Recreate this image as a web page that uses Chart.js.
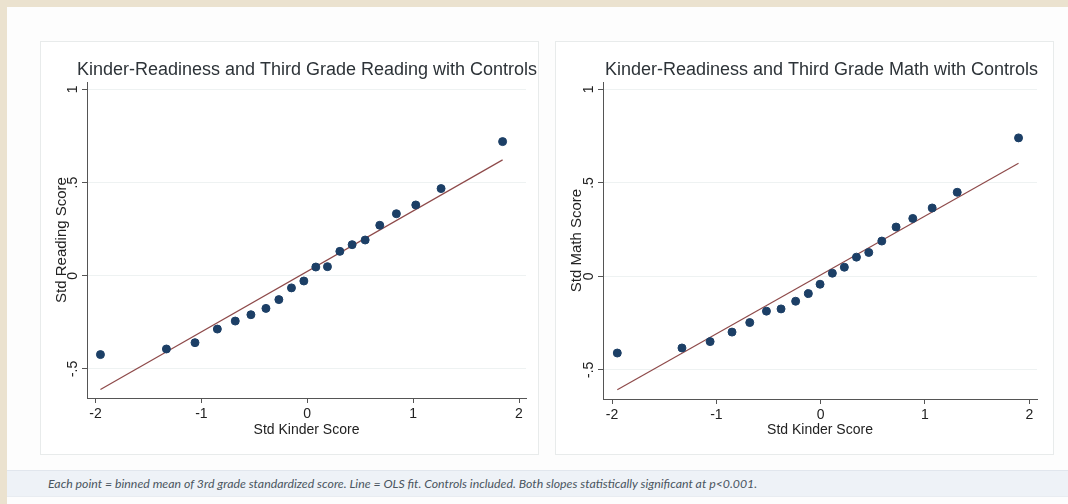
<!DOCTYPE html>
<html>
<head>
<meta charset="utf-8">
<script src="https://cdn.jsdelivr.net/npm/chart.js@4.4.1/dist/chart.umd.min.js"></script>
<style>
  html, body { margin: 0; padding: 0; }
  body { width: 1068px; height: 504px; background: #ebe2cf; position: relative; overflow: hidden; }
  .page { position: absolute; left: 7px; top: 7px; right: 0; bottom: 0; background: #fdfdfd; }
  .card { position: absolute; top: 34px; width: 499px; height: 414px; box-sizing: border-box;
          border: 1px solid #e8ebeb; background: #fff; overflow: hidden; }
  #card1 { left: 33px; }
  #card2 { left: 548px; }
  .card canvas { position: absolute; left: 0; top: 0; }
  .caption { position: absolute; left: 0; right: 0; top: 463px; height: 27px; box-sizing: border-box;
             background: #eef2f7; border-top: 1px solid #e1e6ed; border-bottom: 1px solid #e8ecf1;
             padding-left: 41px; line-height: 26px; font-family: Lato, "Open Sans", sans-serif;
             font-style: italic; font-size: 12.3px; color: #4a5560; white-space: nowrap; }
</style>
</head>
<body>
<div class="page">
  <!-- canvases are a bit wider than the cards so the title centres over the plot, Stata style -->
  <div class="card" id="card1"><canvas id="readingChart" width="532" height="412"></canvas></div>
  <div class="card" id="card2"><canvas id="mathChart" width="531" height="412"></canvas></div>
  <div class="caption">Each point = binned mean of 3rd grade standardized score. Line = OLS fit. Controls included. Both slopes statistically significant at p&lt;0.001.</div>
</div>
<script>
// binned means
const kinderReading = [-1.953, -1.33, -1.06, -0.849, -0.68, -0.532, -0.39, -0.268, -0.149, -0.032, 0.081, 0.191, 0.308, 0.424, 0.547, 0.685, 0.842, 1.025, 1.264, 1.845];
const readingScores = [-0.423, -0.393, -0.359, -0.286, -0.243, -0.209, -0.175, -0.128, -0.065, -0.028, 0.047, 0.049, 0.131, 0.167, 0.192, 0.271, 0.333, 0.38, 0.468, 0.72];
const readingFitX = [-1.953, 1.845];
const readingFitY = [-0.61, 0.622];

const kinderMath = [-1.95, -1.33, -1.06, -0.85, -0.68, -0.52, -0.38, -0.24, -0.118, -0.006, 0.112, 0.227, 0.343, 0.461, 0.586, 0.723, 0.883, 1.069, 1.309, 1.897];
const mathScores = [-0.41, -0.383, -0.349, -0.298, -0.247, -0.186, -0.174, -0.133, -0.092, -0.042, 0.017, 0.049, 0.103, 0.128, 0.189, 0.264, 0.31, 0.366, 0.45, 0.741];
const mathFitX = [-1.95, 1.897];
const mathFitY = [-0.606, 0.605];

const xTicks = [-2, -1, 0, 1, 2];
const xTickLabels = ['-2', '-1', '0', '1', '2'];
const yTicks = [-0.5, 0, 0.5, 1];
const yTickLabels = ['-.5', '0', '.5', '1'];

const FONT = '"Liberation Sans", Arial, sans-serif';
const dotColor = '#1c3f66';
const fitColor = '#8e4a4a';

function pairs(xs, ys) {
  return xs.map((x, i) => ({ x: x, y: ys[i] }));
}

// Stata style: y tick labels turned on their side
const rotatedYLabels = {
  id: 'rotatedYLabels',
  afterDraw(chart) {
    const scale = chart.scales.y;
    const ctx = chart.ctx;
    ctx.save();
    ctx.fillStyle = '#222';
    ctx.font = '14px ' + FONT;
    ctx.textAlign = 'center';
    ctx.textBaseline = 'middle';
    yTicks.forEach((v, i) => {
      const py = scale.getPixelForValue(v);
      ctx.save();
      ctx.translate(scale.right - 14, py);
      ctx.rotate(-Math.PI / 2);
      ctx.fillText(yTickLabels[i], 0, 0);
      ctx.restore();
    });
    ctx.restore();
  }
};

function makeChart(id, title, yTitle, xs, ys, fitX, fitY, xMin, xMax, rightPad, xHeight, yWidth) {
  const ctx = document.getElementById(id).getContext('2d');
  return new Chart(ctx, {
    type: 'scatter',
    data: {
      datasets: [
        {
          label: 'Binned mean',
          data: pairs(xs, ys),
          backgroundColor: dotColor,
          borderColor: dotColor,
          pointRadius: 4,
          pointHoverRadius: 4,
          order: 0
        },
        {
          type: 'line',
          label: 'OLS fit',
          data: pairs(fitX, fitY),
          borderColor: fitColor,
          borderWidth: 1.2,
          pointRadius: 0,
          fill: false,
          order: 1
        }
      ]
    },
    options: {
      responsive: false,
      animation: false,
      layout: { padding: 0 },
      plugins: {
        legend: { display: false },
        tooltip: { enabled: false },
        title: {
          display: true,
          text: title,
          color: '#2d3338',
          font: { family: FONT, size: 18, weight: 'normal' },
          padding: { top: 17.2, bottom: 1.2 }
        }
      },
      scales: {
        x: {
          type: 'linear',
          min: xMin,
          max: xMax,
          afterBuildTicks: (scale) => { scale.ticks = xTicks.map(v => ({ value: v })); },
          // keep the plot off the right edge without moving the title
          afterFit: (scale) => { scale.height = xHeight; scale.paddingRight = rightPad; },
          ticks: {
            color: '#222',
            font: { family: FONT, size: 14 },
            padding: 3,
            maxRotation: 0,
            callback: (v) => xTickLabels[xTicks.indexOf(v)]
          },
          grid: { drawOnChartArea: false, drawTicks: true, tickLength: 5, tickColor: '#555' },
          border: { color: '#555', width: 1 },
          title: {
            display: true,
            text: 'Std Kinder Score',
            color: '#222',
            font: { family: FONT, size: 14 },
            padding: { top: 0, bottom: 15.6 }
          }
        },
        y: {
          type: 'linear',
          min: -0.656,
          max: 1.04,
          afterBuildTicks: (scale) => { scale.ticks = yTicks.map(v => ({ value: v })); },
          afterFit: (scale) => { scale.width = yWidth; },
          ticks: { display: false },
          grid: { color: '#eef2f2', lineWidth: 1, drawTicks: true, tickLength: 5, tickColor: '#555' },
          border: { color: '#555', width: 1 },
          title: {
            display: true,
            text: yTitle,
            color: '#222',
            font: { family: FONT, size: 15 },
            padding: { top: 12, bottom: 0 }
          }
        }
      }
    },
    plugins: [rotatedYLabels]
  });
}

makeChart('readingChart', 'Kinder-Readiness and Third Grade Reading with Controls', 'Std Reading Score',
  kinderReading, readingScores, readingFitX, readingFitY, -2.08, 2.066, 47, 56, 46);
makeChart('mathChart', 'Kinder-Readiness and Third Grade Math with Controls', 'Std Math Score',
  kinderMath, mathScores, mathFitX, mathFitY, -2.087, 2.074, 50, 55, 47);
</script>
</body>
</html>
